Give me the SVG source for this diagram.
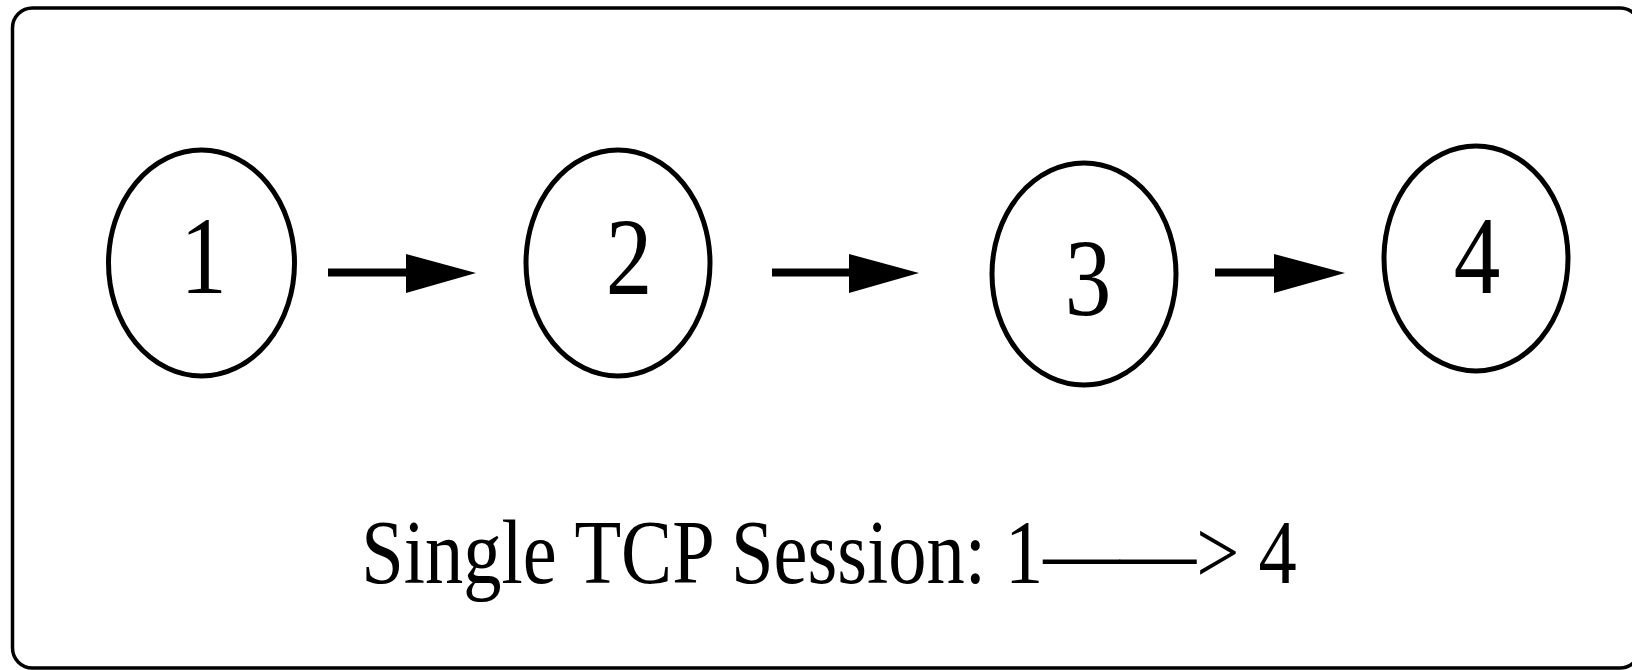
<svg xmlns="http://www.w3.org/2000/svg" width="1632" height="670" viewBox="0 0 1632 670">
  <style>
    .frame { fill: none; stroke: #000; stroke-width: 3.5; }
    .node ellipse { fill: none; stroke: #000; stroke-width: 5; }
    .label { font-family: "Liberation Serif", "Times New Roman", serif; fill: #000; text-anchor: middle; }
    .num { font-size: 111px; }
    .caption { font-size: 90px; }
    .edge line { stroke: #000; stroke-width: 8; }
    .edge polygon { fill: #000; }
  </style>
  <rect width="1632" height="670" fill="#fff"/>

  <!-- outer frame, running off the right edge -->
  <rect class="frame" x="12.5" y="8" width="1627.5" height="660" rx="20" ry="20"/>

  <g id="node-1" class="node">
    <ellipse cx="201.5" cy="263" rx="93" ry="113"/>
    <text class="label num" transform="translate(203.5,293) scale(0.84,1)">1</text>
  </g>
  <g id="node-2" class="node">
    <ellipse cx="618" cy="263" rx="92" ry="113"/>
    <text class="label num" transform="translate(629,294) scale(0.84,1)">2</text>
  </g>
  <g id="node-3" class="node">
    <ellipse cx="1084" cy="274" rx="92" ry="111"/>
    <text class="label num" transform="translate(1088,315) scale(0.84,1)">3</text>
  </g>
  <g id="node-4" class="node">
    <ellipse cx="1476" cy="258.5" rx="92" ry="112.5"/>
    <text class="label num" transform="translate(1477,293) scale(0.84,1)">4</text>
  </g>

  <g id="connectors">
    <g class="edge" id="edge-1-2">
      <line x1="328" y1="272.5" x2="410" y2="272.5"/>
      <polygon points="406,254 476,273 406,293"/>
    </g>
    <g class="edge" id="edge-2-3">
      <line x1="772" y1="272.5" x2="852" y2="272.5"/>
      <polygon points="849,254 919,273 849,293"/>
    </g>
    <g class="edge" id="edge-3-4">
      <line x1="1215" y1="272.5" x2="1278" y2="272.5"/>
      <polygon points="1274,254 1345,273 1274,293"/>
    </g>
  </g>

  <text id="caption" class="label caption" transform="translate(829,583) scale(0.85,1)">Single TCP Session: 1——&gt; 4</text>
</svg>
